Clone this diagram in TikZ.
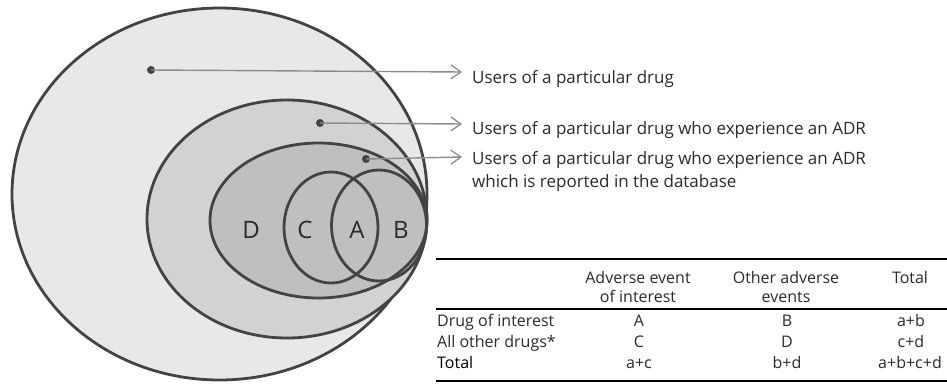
\documentclass[tikz,border=0pt]{standalone}
\usepackage{fontspec}
\setmainfont{Open Sans}
\usetikzlibrary{arrows.meta}
\definecolor{outl}{HTML}{434343}
\definecolor{fillA}{HTML}{E8E8E8}
\definecolor{fillB}{HTML}{D2D2D2}
\definecolor{fillC}{HTML}{BFBFBF}
\definecolor{conn}{HTML}{8C8C8C}
\definecolor{txt}{HTML}{2A2A2A}
\begin{document}
\begin{tikzpicture}[x=1pt,y=-1pt,
  venn/.style={draw=outl, line width=2.8pt},
  dotmark/.style={circle, fill=outl, inner sep=0pt, minimum size=8pt},
  pointer/.style={draw=conn, line width=1.4pt, -{Straight Barb[length=10pt,width=14pt,line width=1.3pt]}},
  lbl/.style={anchor=base west, inner sep=0pt, text=txt, font=\fontsize{17}{22}\selectfont},
  letter/.style={inner sep=0pt, text=txt, font=\fontsize{24}{26}\selectfont},
  cell/.style={anchor=base, inner sep=0pt, text=txt, font=\fontsize{16}{18}\selectfont},
  rowlbl/.style={anchor=base west, inner sep=0pt, text=txt, font=\fontsize{16}{18}\selectfont},
  rule/.style={draw=black, line width=2.4pt}]
\useasboundingbox (0,0) rectangle (947,383);
% Venn ellipses
\draw[venn, fill=fillA] (219.5,194) ellipse [x radius=207.5, y radius=186];
\draw[venn, fill=fillB] (287,219) ellipse [x radius=140, y radius=119];
\draw[venn, fill=fillC] (318.5,220.5) ellipse [x radius=108.5, y radius=77.5];
\draw[venn] (331,227.5) ellipse [x radius=47, y radius=55.5];
\draw[venn] (379,225.5) ellipse [x radius=47.5, y radius=55.5];
% letters
\node[letter] (lD) at (251,230) {D};
\node[letter] (lC) at (305,230) {C};
\node[letter] (lA) at (357,230) {A};
\node[letter] (lB) at (401,230) {B};
% dots and pointers
\node[dotmark] (d1) at (151,70) {};
\node[dotmark] (d2) at (320,123) {};
\node[dotmark] (d3) at (366,159) {};
\coordinate (t1) at (462,72);
\coordinate (t2) at (462,124);
\coordinate (t3) at (462,157);
\draw[pointer] (d1.center) -- (t1);
\draw[pointer] (d2.center) -- (t2);
\draw[pointer] (d3.center) -- (t3);
\node[lbl] (L1) at (472,83) {Users of a particular drug};
\node[lbl] (L2) at (472,134) {Users of a particular drug who experience an ADR};
\node[lbl] (L3) at (472,164) {Users of a particular drug who experience an ADR};
\node[lbl] (L3b) at (472,187) {which is reported in the database};
% table
\coordinate (r1a) at (436,259); \coordinate (r1b) at (947,259);
\coordinate (r2a) at (436,309); \coordinate (r2b) at (947,309);
\coordinate (r3a) at (436,381); \coordinate (r3b) at (947,381);
\draw[rule] (r1a) -- (r1b);
\draw[rule, line width=1.8pt] (r2a) -- (r2b);
\draw[rule] (r3a) -- (r3b);
\node[cell] (h1a) at (638,283) {Adverse event};
\node[cell] (h1b) at (638,302) {of interest};
\node[cell] (h2a) at (786,283) {Other adverse};
\node[cell] (h2b) at (786,302) {events};
\node[cell] (h3a) at (910,283) {Total};
\node[rowlbl] (rw1) at (437,326) {Drug of interest};
\node[rowlbl] (rw2) at (437,347) {All other drugs*};
\node[rowlbl, text=black] (rw3) at (437,368) {Total};
\node[cell] (cA) at (639,326) {A};
\node[cell] (cB) at (787,326) {B};
\node[cell] (cab) at (911,326) {a+b};
\node[cell] (cC) at (639,347) {C};
\node[cell] (cD) at (787,347) {D};
\node[cell] (ccd) at (911,347) {c+d};
\node[cell] (cac) at (639,368) {a+c};
\node[cell] (cbd) at (787,368) {b+d};
\node[cell] (call) at (910,368) {a+b+c+d};
\end{tikzpicture}
\end{document}
